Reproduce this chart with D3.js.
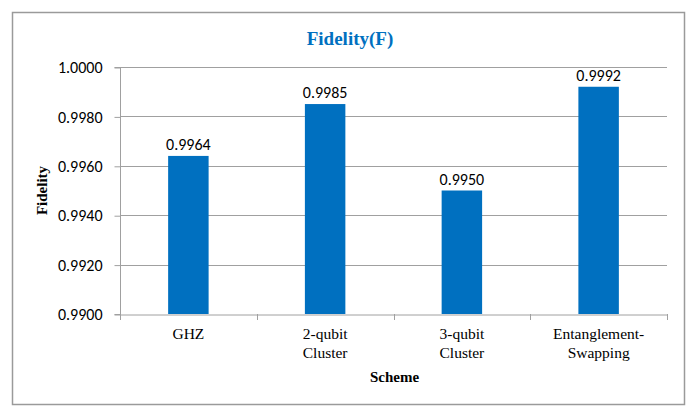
<!DOCTYPE html>
<html>
<head>
<meta charset="utf-8">
<script src="https://cdn.jsdelivr.net/npm/d3@7"></script>
<style>
html,body{margin:0;padding:0;background:#fff;}
svg{display:block;}
</style>
</head>
<body>
<svg id="chart" width="697" height="418"></svg>
<script>
const categories = [["GHZ"], ["2-qubit", "Cluster"], ["3-qubit", "Cluster"], ["Entanglement-", "Swapping"]];
const categoryKeys = ["GHZ", "2-qubit Cluster", "3-qubit Cluster", "Entanglement-Swapping"];
const fidelityValues = [0.9964, 0.9985, 0.9950, 0.9992];
const valueLabels = ["0.9964", "0.9985", "0.9950", "0.9992"];
const yTicks = [0.9900, 0.9920, 0.9940, 0.9960, 0.9980, 1.0000];
const titleText = "Fidelity(F)";
const xTitle = "Scheme";
const yTitle = "Fidelity";

(function () {
const svg = d3.select("#chart");
const blue = "#0070C0";
const grid = "#a0a0a0";
const sans = "Carlito, Lato, 'Open Sans', sans-serif";
const serif = "'Liberation Serif', 'Times New Roman', serif";

// outer border
svg.append("rect").attr("x", 12.5).attr("y", 12.5).attr("width", 672).attr("height", 392)
  .attr("fill", "#fff").attr("stroke", "#9a9a9a").attr("stroke-width", 1.5);

const pL = 120, pR = 667, pT = 67, pB = 314;
const x = d3.scaleBand().domain(categoryKeys).range([pL, pR]).padding(0);
const y = d3.scaleLinear().domain([0.99, 1.0]).range([pB, pT]);

// gridlines
svg.append("g").selectAll("line").data(yTicks.slice(1)).join("line")
  .attr("x1", pL).attr("x2", pR)
  .attr("y1", d => Math.round(y(d)) + 0.5).attr("y2", d => Math.round(y(d)) + 0.5)
  .attr("stroke", grid).attr("stroke-width", 1);

// y axis
const yAxis = d3.axisLeft(y).tickValues(yTicks).tickFormat(d3.format(".4f")).tickSize(6).tickPadding(12);
const gy = svg.append("g").attr("transform", `translate(${pL + 0.5},0.5)`).call(yAxis);
gy.select(".domain").attr("stroke", grid).attr("d", `M-6,${y(1.0)}H0V${y(0.99)}H-6`);
gy.selectAll(".tick line").attr("stroke", grid);
gy.selectAll(".tick text").attr("font-family", sans).attr("font-size", 16).attr("fill", "#000");

// bars
const barW = x.bandwidth() * 0.296;
svg.append("g").selectAll("rect").data(fidelityValues).join("rect")
  .attr("x", (d, i) => x(categoryKeys[i]) + x.bandwidth() / 2 - barW / 2)
  .attr("y", d => y(d))
  .attr("width", barW)
  .attr("height", d => y(0.99) - y(d))
  .attr("fill", blue);

// value labels
svg.append("g").selectAll("text").data(fidelityValues).join("text")
  .attr("x", (d, i) => x(categoryKeys[i]) + x.bandwidth() / 2)
  .attr("y", d => y(d) - 6)
  .attr("text-anchor", "middle")
  .attr("font-family", sans).attr("font-size", 16).attr("fill", "#000")
  .text((d, i) => valueLabels[i]);

// x axis
const xAxis = d3.axisBottom(x).tickSize(0).tickFormat("");
const gx = svg.append("g").attr("transform", `translate(0,${pB + 0.5})`).call(xAxis);
gx.select(".domain").attr("stroke", grid);
const sepX = categoryKeys.map(k => x(k)).concat([pR]);
svg.append("g").selectAll("line").data(sepX).join("line")
  .attr("x1", d => Math.round(d) + 0.5).attr("x2", d => Math.round(d) + 0.5)
  .attr("y1", pB).attr("y2", pB + 6)
  .attr("stroke", grid);

// category labels
categories.forEach((lines, i) => {
  const cx = x(categoryKeys[i]) + x.bandwidth() / 2;
  const t = svg.append("text")
    .attr("x", cx).attr("y", 339)
    .attr("text-anchor", "middle")
    .attr("font-family", serif).attr("font-size", 15.5).attr("fill", "#000");
  lines.forEach((ln, j) => {
    t.append("tspan").attr("x", cx).attr("dy", j === 0 ? 0 : 19).text(ln);
  });
});

// title
svg.append("text").attr("x", 350).attr("y", 45).attr("text-anchor", "middle")
  .attr("font-family", serif).attr("font-weight", "bold").attr("font-size", 19)
  .attr("fill", blue).text(titleText);

// axis titles
svg.append("text").attr("x", (pL + pR) / 2 + 1).attr("y", 382).attr("text-anchor", "middle")
  .attr("font-family", serif).attr("font-weight", "bold").attr("font-size", 15)
  .attr("fill", "#000").text(xTitle);

svg.append("text").attr("transform", `translate(47,${(pT + pB) / 2}) rotate(-90)`)
  .attr("text-anchor", "middle")
  .attr("font-family", serif).attr("font-weight", "bold").attr("font-size", 15)
  .attr("fill", "#000").text(yTitle);
})();
</script>
</body>
</html>
